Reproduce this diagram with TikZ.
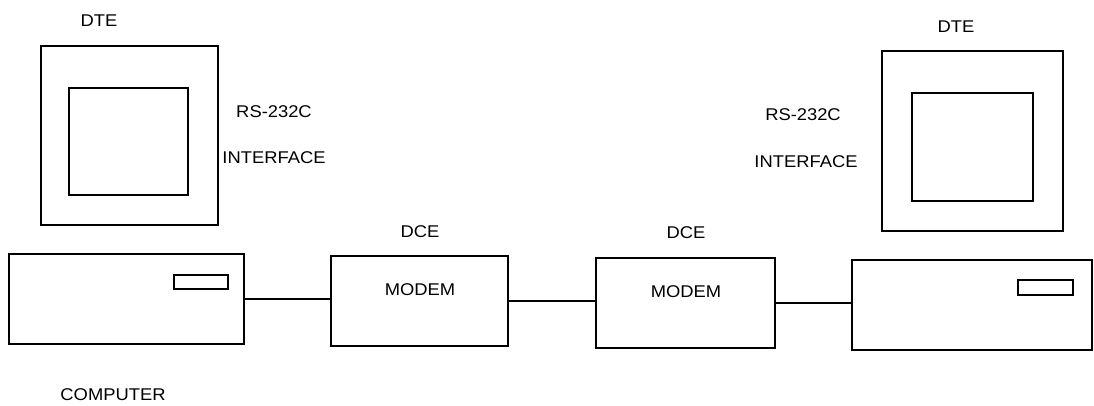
\documentclass[tikz,border=0pt]{standalone}
\usepackage{fontspec}
\setmainfont{Liberation Sans}[FakeStretch=1.08]
\begin{document}
\begin{tikzpicture}[x=1pt,y=-1pt,
  box/.style={draw, line width=1.2pt, inner sep=0pt},
  lbl/.style={font=\fontsize{17}{20}\selectfont, inner sep=0pt, text=black},
  wire/.style={line width=1.2pt}]
\useasboundingbox (0,0) rectangle (1094,406);
% left DTE
\node[box, minimum width=177pt, minimum height=179pt] (mon1) at (129.5,135.5) {};
\node[box, minimum width=119pt, minimum height=107pt] (scr1) at (128.5,141.5) {};
\node[box, minimum width=235pt, minimum height=90pt] (pc1) at (126.5,299) {};
\node[box, minimum width=54pt, minimum height=14pt] (slot1) at (201,282) {};
% modems
\node[box, minimum width=177pt, minimum height=90pt] (m1) at (419.5,301) {};
\node[box, minimum width=179pt, minimum height=90pt] (m2) at (685.5,303) {};
% right DTE
\node[box, minimum width=181pt, minimum height=180pt] (mon2) at (972.5,141) {};
\node[box, minimum width=121pt, minimum height=108pt] (scr2) at (972.5,147) {};
\node[box, minimum width=240pt, minimum height=90pt] (pc2) at (972,305) {};
\node[box, minimum width=55pt, minimum height=15pt] (slot2) at (1045.5,287.5) {};
% wires
\draw[wire] (pc1.east) -- (pc1.east -| m1.west);
\draw[wire] (m1.east) -- (m1.east -| m2.west);
\draw[wire] (m2.east) -- (m2.east -| pc2.west);
% labels
\node[lbl] (dte1) at (99,21) {DTE};
\node[lbl] (rs1) at (274,112) {RS-232C};
\node[lbl] (if1) at (274,158) {INTERFACE};
\node[lbl] (comp) at (113,395) {COMPUTER};
\node[lbl] (dce1) at (420,232) {DCE};
\node[lbl] (mt1) at (420,290) {MODEM};
\node[lbl] (dce2) at (686,233) {DCE};
\node[lbl] (mt2) at (686,292) {MODEM};
\node[lbl] (dte2) at (956,27) {DTE};
\node[lbl] (rs2) at (803,115) {RS-232C};
\node[lbl] (if2) at (806,162) {INTERFACE};
\end{tikzpicture}
\end{document}
